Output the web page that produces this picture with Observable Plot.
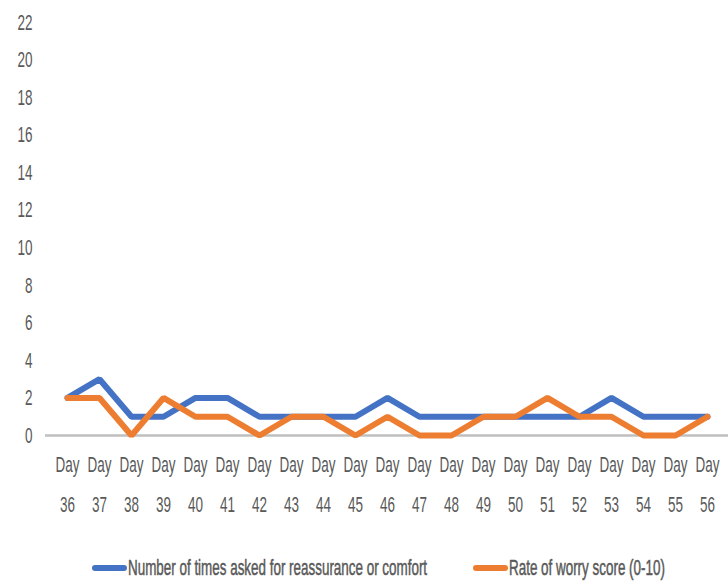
<!DOCTYPE html>
<html>
<head>
<meta charset="utf-8">
<script src="https://cdn.jsdelivr.net/npm/d3@7"></script>
<script src="https://cdn.jsdelivr.net/npm/@observablehq/plot@0.6"></script>
<style>
  body { margin: 0; background: #fff; width: 728px; height: 581px; overflow: hidden; position: relative; }
  #chart { position: absolute; left: 0; top: 0; }
  .leg { position: absolute; top: 556px; height: 24px; display: flex; align-items: center;
         font-family: "Liberation Sans", Arial, sans-serif; font-size: 22px; color: #595959; }
  .sw { flex: none; width: 35px; height: 6px; border-radius: 3px; margin-right: 1px; }
  .lt { display: inline-block; transform: scaleX(0.61); transform-origin: left center; white-space: nowrap;
        -webkit-text-stroke: 0.5px #595959; }
</style>
</head>
<body>
<div id="chart"></div>
<div id="legend"></div>
<script>
const days = [36, 37, 38, 39, 40, 41, 42, 43, 44, 45, 46, 47, 48, 49, 50, 51, 52, 53, 54, 55, 56];
const reassurance = [2, 3, 1, 1, 2, 2, 1, 1, 1, 1, 2, 1, 1, 1, 1, 1, 1, 2, 1, 1, 1];
const worry = [2, 2, 0, 2, 1, 1, 0, 1, 1, 0, 1, 0, 0, 1, 1, 2, 1, 1, 0, 0, 1];
const yTicks = [0, 2, 4, 6, 8, 10, 12, 14, 16, 18, 20, 22];
const seriesNames = ["Number of times asked for reassurance or comfort", "Rate of worry score (0-10)"];
const colors = ["#4472C4", "#ED7D31"];

const rows = [];
days.forEach((d, i) => {
  rows.push({day: d, value: reassurance[i], series: seriesNames[0]});
});
days.forEach((d, i) => {
  rows.push({day: d, value: worry[i], series: seriesNames[1]});
});

const textStyle = {fill: "#595959", stroke: "#595959", strokeWidth: 0.6, fontSize: 22.5};

const plot = Plot.plot({
  width: 728,
  height: 540,
  marginLeft: 45,
  marginRight: 0,
  marginTop: 22,
  marginBottom: 105,
  style: {fontFamily: "'Liberation Sans', Arial, sans-serif", fontSize: "22.5px", color: "#595959", background: "white"},
  x: {type: "point", domain: days, padding: 0, insetLeft: 17, insetRight: 16},
  y: {domain: [0, 22]},
  color: {domain: seriesNames, range: colors},
  marks: [
    Plot.ruleY([0], {stroke: "#BFBFBF", strokeWidth: 2.5}),
    Plot.axisY({ticks: yTicks, tickSize: 0, tickPadding: 13, label: null, ...textStyle}),
    Plot.axisX({tickSize: 0, tickPadding: 8, label: null, lineHeight: 1.78, ...textStyle,
      tickFormat: d => `Day\n${d}`}),
    Plot.line(rows.filter(r => r.series === seriesNames[0]), {x: "day", y: "value", stroke: "series", strokeWidth: 6, strokeLinejoin: "miter", strokeLinecap: "round"}),
    Plot.line(rows.filter(r => r.series === seriesNames[1]), {x: "day", y: "value", stroke: "series", strokeWidth: 6, strokeLinejoin: "miter", strokeLinecap: "round"})
  ]
});

// condense axis text horizontally
d3.select(plot).selectAll("g[aria-label$='tick label'] text").each(function() {
  const t = this.getAttribute("transform") || "";
  this.setAttribute("transform", t + " scale(0.6,1)");
});
document.getElementById("chart").appendChild(plot);

const legend = document.getElementById("legend");
const legX = [92, 473];
seriesNames.forEach((name, i) => {
  const item = document.createElement("div");
  item.className = "leg";
  item.style.left = legX[i] + "px";
  item.innerHTML = `<span class="sw" style="background:${colors[i]}"></span><span class="lt">${name}</span>`;
  legend.appendChild(item);
});
</script>
</body>
</html>
